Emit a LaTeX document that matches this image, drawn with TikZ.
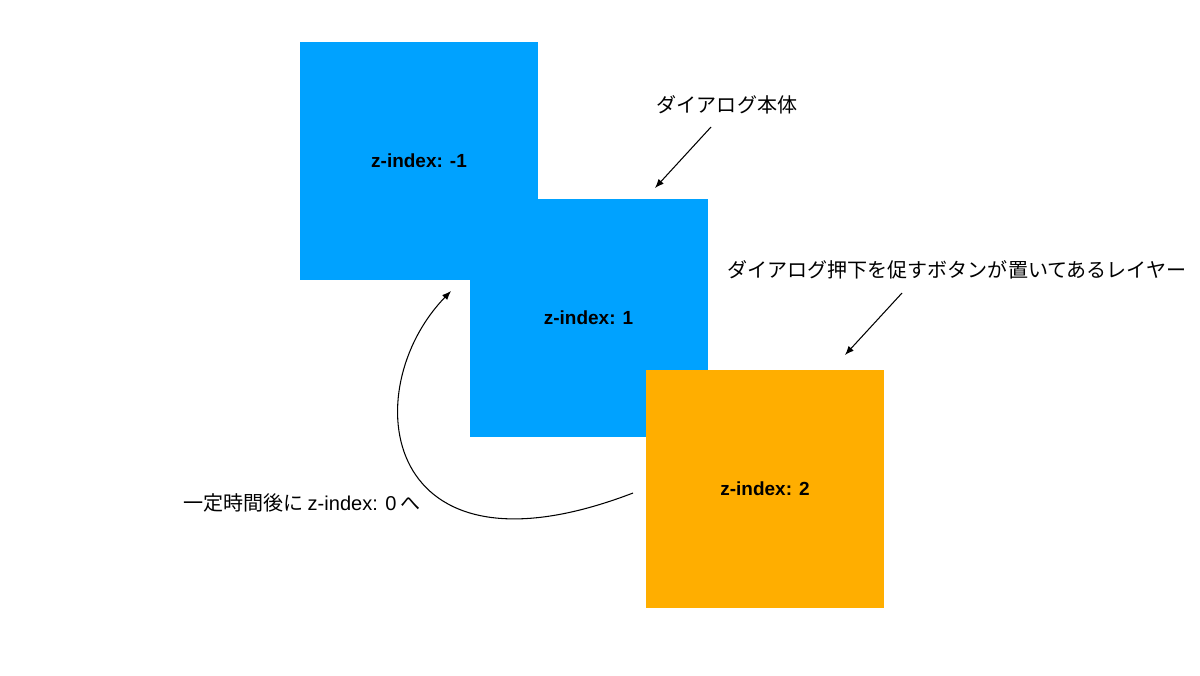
\documentclass[tikz,border=0pt]{standalone}
\usepackage{fontspec}
\setmainfont{Liberation Sans}
\newfontfamily\jpfont{Noto Sans CJK JP}
\usetikzlibrary{arrows.meta,positioning}
\definecolor{layerblue}{HTML}{00A2FF}
\definecolor{layerorange}{HTML}{FFAE00}
\tikzstyle{layer} = [minimum size=4.76cm, inner sep=0pt, font=\bfseries\fontsize{10.8}{13}\selectfont]
\tikzstyle{note} = [font=\jpfont\fontsize{11.4}{14}\selectfont, inner sep=1pt]
\tikzstyle{arrow} = [-{Latex[length=1.8mm,width=1.4mm]}, line width=0.6pt, black]

\begin{document}
\begin{tikzpicture}
\useasboundingbox (0,0) rectangle (24,-13.5);

% layers
\node[layer, fill=layerblue] (back) at (8.38,-3.22) {z-index: -1};
\node[layer, fill=layerblue] (dialog) at (11.77,-6.36) {\raisebox{-0.07cm}{z-index: 1}};
\node[layer, fill=layerorange] (button) at (15.3,-9.78) {\raisebox{-0.06cm}{z-index: 2}};

% notes
\node[note] (dialognote) at (14.54,-2.1) {ダイアログ本体};
\node[note] (buttonnote) at (19.14,-5.4) {ダイアログ押下を促すボタンが置いてあるレイヤー};
\node[note] (timenote) at (6.04,-10.06) {一定時間後に {\fontspec{Liberation Sans}z-index: 0} へ};

\coordinate (d1) at (14.22,-2.54);
\coordinate (d2) at (13.1,-3.76);
\coordinate (b1) at (18.04,-5.86);
\coordinate (b2) at (16.9,-7.1);
\coordinate (t1) at (12.66,-9.86);
\coordinate (t2) at (9.02,-5.82);

\draw[arrow] (d1) -- (d2);
\draw[arrow] (b1) -- (b2);
\draw[arrow] (t1) .. controls (7.6,-11.8) and (7.1,-7.8) .. (t2);
\end{tikzpicture}
\end{document}
